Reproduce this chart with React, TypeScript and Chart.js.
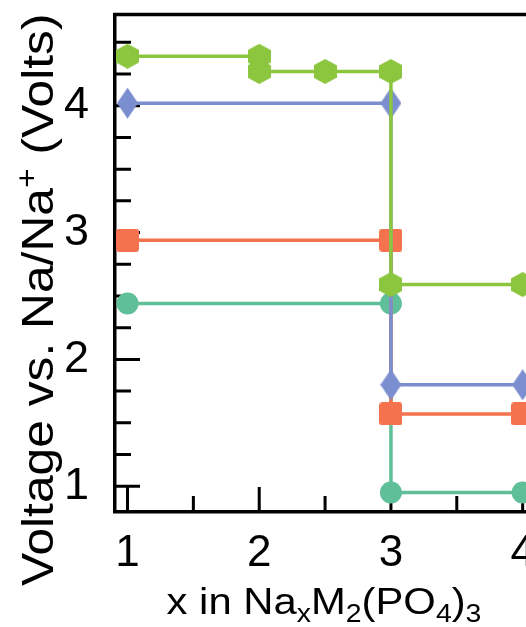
import React, { useEffect, useRef } from 'react';
import { Chart, registerables } from 'chart.js';

Chart.register(...registerables);

// ---- data ----
const greenX = [1, 2, 2, 2.5, 3, 3, 4];
const greenY = [4.39, 4.39, 4.27, 4.27, 4.27, 2.59, 2.59];
const blueX = [1, 3, 3, 4];
const blueY = [4.02, 4.02, 1.8, 1.8];
const redX = [1, 3, 3, 4];
const redY = [2.94, 2.94, 1.57, 1.57];
const tealX = [1, 3, 3, 4];
const tealY = [2.44, 2.44, 0.95, 0.95];

const xMajorTicks = [1, 2, 3, 4];
const xMinorTicks = [1.5, 2.5, 3.5];
const yMajorTicks = [1, 2, 3, 4];
const yMinorTicks = [1.25, 1.5, 1.75, 2.25, 2.5, 2.75, 3.25, 3.5, 3.75, 4.25, 4.5];

const xTitleParts: [string, string][] = [
  ['x in Na', 'n'], ['x', 'sub'], ['M', 'n'], ['2', 'sub'], ['(PO', 'n'], ['4', 'sub'], [')', 'n'], ['3', 'sub'],
];
const yTitleParts: [string, string][] = [
  ['Voltage vs. Na/Na', 'n'], ['+', 'sup'], [' (Volts)', 'n'],
];

const FONT = "'Liberation Sans', Arial, Helvetica, sans-serif";
const GREEN = '#8cc63f';
const BLUE = '#7b8ecf';
const RED = '#f4724e';
const TEAL = '#5ebf98';

function toPts(xs: number[], ys: number[]) {
  return xs.map((x, i) => ({ x, y: ys[i] }));
}

function makeCanvas(w: number, h: number, draw: (c: CanvasRenderingContext2D) => void) {
  const c = document.createElement('canvas');
  c.width = w;
  c.height = h;
  const ctx = c.getContext('2d')!;
  draw(ctx);
  return c;
}

function hexagon(color: string) {
  const w = 23, h = 25;
  return makeCanvas(w, h, (ctx) => {
    ctx.fillStyle = color;
    ctx.beginPath();
    ctx.moveTo(w / 2, 0);
    ctx.lineTo(w, h * 0.25);
    ctx.lineTo(w, h * 0.75);
    ctx.lineTo(w / 2, h);
    ctx.lineTo(0, h * 0.75);
    ctx.lineTo(0, h * 0.25);
    ctx.closePath();
    ctx.fill();
  });
}

function diamond(color: string) {
  const w = 21, h = 31;
  return makeCanvas(w, h, (ctx) => {
    ctx.fillStyle = color;
    ctx.beginPath();
    ctx.moveTo(w / 2, 0);
    ctx.lineTo(w, h / 2);
    ctx.lineTo(w / 2, h);
    ctx.lineTo(0, h / 2);
    ctx.closePath();
    ctx.fill();
  });
}

function square(color: string) {
  const s = 23;
  return makeCanvas(s, s, (ctx) => {
    ctx.fillStyle = color;
    ctx.beginPath();
    const r = 3;
    ctx.moveTo(r, 0);
    ctx.lineTo(s - r, 0);
    ctx.quadraticCurveTo(s, 0, s, r);
    ctx.lineTo(s, s - r);
    ctx.quadraticCurveTo(s, s, s - r, s);
    ctx.lineTo(r, s);
    ctx.quadraticCurveTo(0, s, 0, s - r);
    ctx.lineTo(0, r);
    ctx.quadraticCurveTo(0, 0, r, 0);
    ctx.closePath();
    ctx.fill();
  });
}

function drawRich(ctx: CanvasRenderingContext2D, parts: [string, string][], size: number, doDraw: boolean) {
  let x = 0;
  for (const [t, k] of parts) {
    const fs = k === 'n' ? size : size * 0.68;
    ctx.font = `${fs}px ${FONT}`;
    const dy = k === 'sub' ? size * 0.22 : k === 'sup' ? -size * 0.36 : 0;
    if (doDraw) ctx.fillText(t, x, dy);
    x += ctx.measureText(t).width;
  }
  return x;
}

const inTicks = {
  id: 'inTicks',
  beforeDatasetsDraw(chart: any) {
    const { ctx, chartArea: a, scales } = chart;
    const x = scales.x, y = scales.y;
    ctx.save();
    ctx.strokeStyle = '#000';
    ctx.lineWidth = 3;
    ctx.beginPath();
    for (const v of xMajorTicks) {
      const p = x.getPixelForValue(v);
      ctx.moveTo(p, a.bottom);
      ctx.lineTo(p, a.bottom - 25);
    }
    for (const v of xMinorTicks) {
      const p = x.getPixelForValue(v);
      ctx.moveTo(p, a.bottom);
      ctx.lineTo(p, a.bottom - 16);
    }
    for (const v of yMajorTicks) {
      const p = y.getPixelForValue(v);
      ctx.moveTo(a.left, p);
      ctx.lineTo(a.left + 25, p);
    }
    for (const v of yMinorTicks) {
      const p = y.getPixelForValue(v);
      ctx.moveTo(a.left, p);
      ctx.lineTo(a.left + 16, p);
    }
    ctx.stroke();
    ctx.lineWidth = 3.5;
    ctx.beginPath();
    ctx.moveTo(a.left - 1.75, a.top);
    ctx.lineTo(a.right, a.top);
    ctx.lineTo(a.right, a.bottom);
    ctx.stroke();
    ctx.restore();
  },
};

const titles = {
  id: 'titles',
  afterDraw(chart: any) {
    const { ctx } = chart;
    const sx = 1.13;
    ctx.save();
    ctx.fillStyle = '#000';
    ctx.textAlign = 'left';
    ctx.textBaseline = 'alphabetic';
    const xs = 37;
    const wx = drawRich(ctx, xTitleParts, xs, false);
    ctx.save();
    ctx.translate(324 - (wx * sx) / 2, 614);
    ctx.scale(sx, 1);
    drawRich(ctx, xTitleParts, xs, true);
    ctx.restore();
    const ys = 44;
    ctx.save();
    ctx.translate(53, 586);
    ctx.rotate(-Math.PI / 2);
    ctx.scale(sx, 1);
    drawRich(ctx, yTitleParts, ys, true);
    ctx.restore();
    ctx.restore();
  },
};

function zeroPad(s: any) {
  s.paddingTop = 0;
  s.paddingBottom = 0;
  s.paddingLeft = 0;
  s.paddingRight = 0;
}

export default function App() {
  const ref = useRef<HTMLCanvasElement>(null);
  useEffect(() => {
    if (!ref.current) return;
    const hexG = hexagon(GREEN);
    const dia = diamond(BLUE);
    const sq = square(RED);
    const chart = new Chart(ref.current, {
      type: 'line',
      data: {
        datasets: [
          { data: toPts(greenX, greenY), borderColor: GREEN, backgroundColor: GREEN, borderWidth: 3.5, pointStyle: hexG as any, pointRadius: 11, tension: 0 },
          { data: toPts(blueX, blueY), borderColor: BLUE, backgroundColor: BLUE, borderWidth: 3.5, pointStyle: dia as any, pointRadius: 11, tension: 0 },
          { data: toPts(redX, redY), borderColor: RED, backgroundColor: RED, borderWidth: 3.5, pointStyle: sq as any, pointRadius: 11, tension: 0 },
          { data: toPts(tealX, tealY), borderColor: TEAL, backgroundColor: TEAL, borderWidth: 3.5, pointStyle: 'circle', pointRadius: 11, pointBorderWidth: 0, tension: 0 },
        ],
      },
      options: {
        animation: false,
        responsive: false,
        devicePixelRatio: 1,
        layout: { padding: { top: 5.5, right: 3, left: 0, bottom: 0 } },
        plugins: { legend: { display: false }, tooltip: { enabled: false } },
        events: [],
        scales: {
          x: {
            type: 'linear',
            min: 0.905,
            max: 4.5,
            grid: { display: false },
            border: { display: true, color: '#000', width: 3.5 },
            ticks: { stepSize: 1, includeBounds: false, autoSkip: false, maxRotation: 0, color: '#000', padding: 7, font: { family: FONT, size: 44 } },
            afterFit: (s: any) => { s.height = 115; zeroPad(s); },
          },
          y: {
            type: 'linear',
            min: 0.797,
            max: 4.719,
            grid: { display: false },
            border: { display: true, color: '#000', width: 3.5 },
            ticks: { stepSize: 1, includeBounds: false, autoSkip: false, color: '#000', padding: 18, font: { family: FONT, size: 45 } },
            afterFit: (s: any) => { s.width = 115; zeroPad(s); },
          },
        },
      },
      plugins: [inTicks, titles],
    } as any);
    return () => chart.destroy();
  }, []);
  return (
    <div style={{ position: 'fixed', left: 0, top: 0, width: 526, height: 627, overflow: 'hidden', background: '#fff' }}>
      <canvas ref={ref} width={603} height={627} style={{ display: 'block' }} />
    </div>
  );
}
